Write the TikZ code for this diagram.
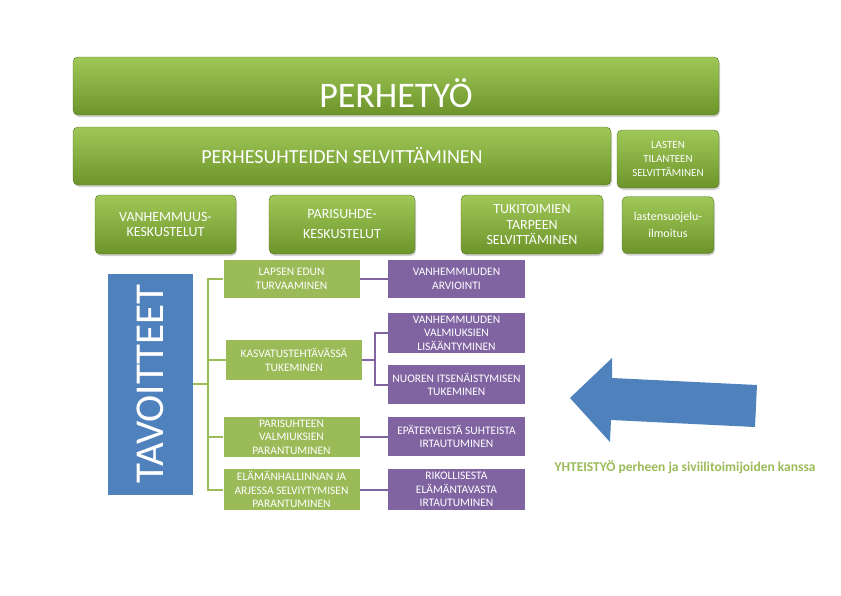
\documentclass[tikz,border=0pt]{standalone}
\usepackage{fontspec}
\setmainfont{Carlito}
\usetikzlibrary{shadows}
\definecolor{olive}{RGB}{155,187,89}
\definecolor{olivetop}{RGB}{160,200,88}
\definecolor{olivebot}{RGB}{108,148,42}
\definecolor{plum}{RGB}{128,100,162}
\definecolor{steel}{RGB}{79,129,189}
\tikzset{
  bar/.style={rounded corners=5pt,top color=olivetop,bottom color=olivebot,draw=olivebot!80!black,
    text=white,align=center,inner sep=2pt,
    drop shadow={opacity=0.35,shadow xshift=1pt,shadow yshift=-2pt}},
  goal/.style={fill=olive,text=white,align=center,font=\fontsize{11.5}{13.5}\selectfont,
    minimum width=136,inner sep=0pt},
  means/.style={fill=plum,text=white,align=center,font=\fontsize{11.5}{13.5}\selectfont,
    minimum width=137,inner sep=0pt},
  greenline/.style={draw=olive,line width=2pt},
  plumline/.style={draw=plum,line width=2pt}
}
\begin{document}
\begin{tikzpicture}[x=1pt,y=-1pt]
\useasboundingbox[fill=white] (0,0) rectangle (841,595);
% ylin taso
\node[bar,minimum width=646,minimum height=58,text height=42pt,text depth=0pt,font=\fontsize{36}{40}\selectfont] (perhetyo) at (396,86) {PERHETYÖ};
\node[bar,minimum width=538,minimum height=58,font=\fontsize{20}{24}\selectfont] (suhteet) at (342,156) {PERHESUHTEIDEN SELVITTÄMINEN};
\node[bar,minimum width=102,minimum height=58,font=\fontsize{11}{14}\selectfont] (lasten) at (668,159) {LASTEN\\TILANTEEN\\SELVITTÄMINEN};
% keskustelut
\node[bar,minimum width=141,minimum height=59,font=\fontsize{14}{15}\selectfont] (vanhemmuus) at (165.5,224.5) {VANHEMMUUS-\\KESKUSTELUT};
\node[bar,minimum width=146,minimum height=59,font=\fontsize{14}{20}\selectfont] (parisuhde) at (342,224.5) {PARISUHDE-\\KESKUSTELUT};
\node[bar,minimum width=142,minimum height=59,font=\fontsize{14}{15.5}\selectfont] (tukitoimet) at (532,224.5) {TUKITOIMIEN\\TARPEEN\\SELVITTÄMINEN};
\node[bar,minimum width=92,minimum height=57,font=\fontsize{12}{17}\selectfont] (ilmoitus) at (668,225) {lastensuojelu-\\ilmoitus};
% tavoitteet
\node[fill=steel,text=white,minimum width=85,minimum height=221,inner sep=0pt] (tavoitteet) at (150.5,384) {};
\node[rotate=90,text=white,font=\fontsize{41}{44}\selectfont] (tavoitteetxt) at (tavoitteet.center) {TAVOITTEET};
\node[goal,minimum height=38] (lapsen) at (291.5,279) {LAPSEN EDUN\\TURVAAMINEN};
\node[goal,minimum height=40] (kasvatus) at (294,360) {KASVATUSTEHTÄVÄSSÄ\\TUKEMINEN};
\node[goal,minimum height=40] (parisuhteen) at (291.5,437) {PARISUHTEEN\\VALMIUKSIEN\\PARANTUMINEN};
\node[goal,minimum height=41] (elama) at (291.5,489.5) {ELÄMÄNHALLINNAN JA\\ARJESSA SELVIYTYMISEN\\PARANTUMINEN};
\node[means,minimum height=38] (arviointi) at (456.5,279) {VANHEMMUUDEN\\ARVIOINTI};
\node[means,minimum height=40] (valmiudet) at (456.5,333) {VANHEMMUUDEN\\VALMIUKSIEN\\LISÄÄNTYMINEN};
\node[means,minimum height=39] (nuoren) at (456.5,384.5) {NUOREN ITSENÄISTYMISEN\\TUKEMINEN};
\node[means,minimum height=39] (irtautuminen) at (456.5,436.5) {EPÄTERVEISTÄ SUHTEISTA\\IRTAUTUMINEN};
\node[means,minimum height=41] (rikollisuus) at (456.5,489.5) {RIKOLLISESTA\\ELÄMÄNTAVASTA\\IRTAUTUMINEN};
% haarat
\coordinate (hub) at (208,384);
\coordinate (kasvhub) at (375,360);
\draw[greenline] (tavoitteet.east) -- (hub);
\draw[greenline] (hub) |- (lapsen.west);
\draw[greenline] (hub) |- (kasvatus.west);
\draw[greenline] (hub) |- (parisuhteen.west);
\draw[greenline] (hub) |- (elama.west);
\draw[plumline] (lapsen.east) -- (lapsen.east -| arviointi.west);
\draw[plumline] (kasvatus.east) -- (kasvhub);
\draw[plumline] (kasvhub) |- (valmiudet.west);
\draw[plumline] (kasvhub) |- (nuoren.west);
\draw[plumline] (parisuhteen.east) -- (parisuhteen.east -| irtautuminen.west);
\draw[plumline] (elama.east) -- (elama.east -| rikollisuus.west);
% nuoli
\fill[steel] (570,398) -- (612,358) -- (612,378) -- (757,385) -- (755,427) -- (611,420) -- (610,442) -- cycle;
\node[text=olive,font=\fontsize{13.5}{16}\selectfont\bfseries] (yhteistyo) at (685,467) {YHTEISTYÖ perheen ja siviilitoimijoiden kanssa};
\end{tikzpicture}
\end{document}
